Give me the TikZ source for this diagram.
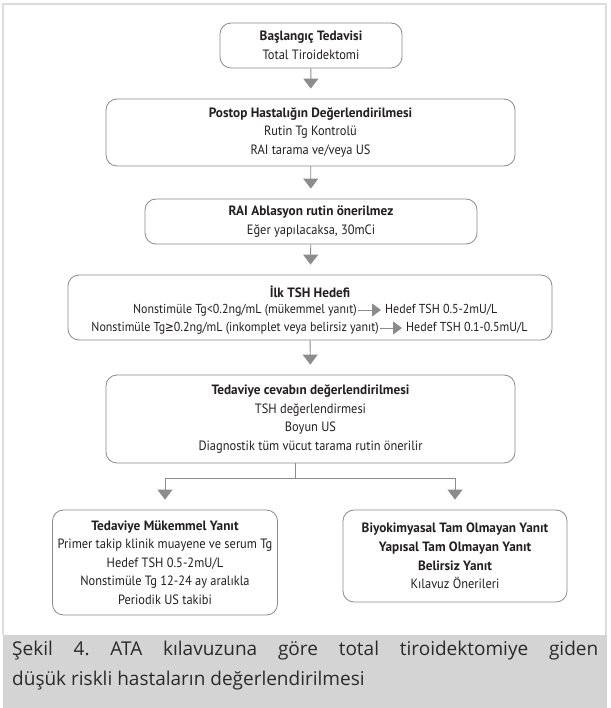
\documentclass[tikz,border=0pt]{standalone}
\usepackage{fontspec}
\setmainfont{PT Sans}[FakeStretch=0.92, BoldFeatures={FakeStretch=0.98}]
\newfontfamily\capfont{Open Sans}
\newfontfamily\symf{DejaVu Sans}[FakeStretch=0.8]
\usetikzlibrary{arrows.meta}

\definecolor{framegray}{HTML}{DCDCDC}
\definecolor{bandgray}{HTML}{D4D4D4}
\definecolor{boxline}{HTML}{8A8A8A}
\definecolor{arrowgray}{HTML}{8C8C8C}
\definecolor{ink}{HTML}{231F20}
\definecolor{capink}{HTML}{2A2A2A}

\tikzset{
  stepbox/.style={draw=boxline, line width=0.8pt, rounded corners=11pt,
    align=center, text=ink, inner sep=0pt,
    font=\fontsize{13.5}{18.6}\selectfont},
  rowtext/.style={text=ink, inner sep=1pt, font=\fontsize{13}{14}\selectfont},
  flow/.style={draw=arrowgray, line width=0.9pt, shorten >=10pt,
    -{Triangle[length=10pt,width=15pt]}, arrowgray},
  flowline/.style={draw=arrowgray, line width=0.9pt},
  inarrow/.style={draw=arrowgray, line width=0.9pt, shorten >=3pt,
    -{Triangle[length=9pt,width=13pt]}, arrowgray},
}

\begin{document}
\frenchspacing
\begin{tikzpicture}[x=1pt,y=-1pt]
\useasboundingbox (0,0) rectangle (610,708);
\fill[white] (0,0) rectangle (610,708);

% outer frame and caption band
\draw[framegray, line width=1.5pt] (3,635) -- (3,4) -- (606,4) -- (606,635);
\fill[bandgray] (3,635) rectangle (607,708);

% flow boxes
\node[stepbox, minimum width=182pt, minimum height=45pt] (b1) at (311,45.5)
  {\textbf{Başlangıç Tedavisi}\\Total Tiroidektomi};
\node[stepbox, minimum width=409pt, minimum height=67pt] (b2) at (310.5,132.5)
  {\textbf{Postop Hastalığın Değerlendirilmesi}\\Rutin Tg Kontrolü\\RAI tarama ve/veya US};
\node[stepbox, minimum width=332pt, minimum height=45pt] (b3) at (311,221.5)
  {\textbf{RAI Ablasyon rutin önerilmez}\\Eğer yapılacaksa, 30mCi};
\node[stepbox, minimum width=484pt, minimum height=65pt] (b4) at (310,307.5) {};
\node[stepbox, minimum width=409pt, minimum height=88pt] (b5) at (310.5,419)
  {\textbf{Tedaviye cevabın değerlendirilmesi}\\TSH değerlendirmesi\\Boyun US\\Diagnostik tüm vücut tarama rutin önerilir};
\node[stepbox, minimum width=225pt, minimum height=105pt] (b6) at (165,562.5)
  {\textbf{Tedaviye Mükemmel Yanıt}\\Primer takip klinik muayene ve serum Tg\\Hedef TSH 0.5-2mU/L\\Nonstimüle Tg 12-24 ay aralıkla\\Periodik US takibi};
\node[stepbox, minimum width=224pt, minimum height=92pt] (b7) at (455,556)
  {\textbf{Biyokimyasal Tam Olmayan Yanıt}\\\textbf{Yapısal Tam Olmayan Yanıt}\\\textbf{Belirsiz Yanıt}\\Kılavuz Önerileri};

% contents of the TSH target box
\node[rowtext, font=\fontsize{13.5}{14}\selectfont] (t4) at (310,292) {\textbf{İlk TSH Hedefi}};
\node[rowtext, anchor=east] (r1a) at (358,310) {Nonstimüle Tg<0.2ng/mL (mükemmel yanıt)};
\node[rowtext, anchor=west] (r1b) at (384,310) {Hedef TSH 0.5-2mU/L};
\node[rowtext, anchor=east] (r2a) at (380,328) {Nonstimüle Tg{\symf ≥}0.2ng/mL (inkomplet veya belirsiz yanıt)};
\node[rowtext, anchor=west] (r2b) at (405,328) {Hedef TSH 0.1-0.5mU/L};
\draw[inarrow] (r1a) -- (r1b);
\draw[inarrow] (r2a) -- (r2b);

% vertical flow
\draw[flow] (b1) -- (b2);
\draw[flow] (b2) -- (b3);
\draw[flow] (b3) -- (b4);
\draw[flow] (b4) -- (b5);

% branch to the two outcomes
\coordinate (s) at (295,463);
\coordinate (j) at (295,478);
\draw[flowline] (s) -- (j);
\draw[flow] (j) -| (b6);
\draw[flow] (j) -| (b7);

% caption: first line set full width, second line flush left
\node[anchor=north west, inner sep=0pt, align=left,
      text=capink, font=\capfont\fontsize{19}{29.5}\selectfont] (cap) at (12,641)
  {\makebox[586pt][s]{Şekil 4. ATA kılavuzuna göre total tiroidektomiye giden}\\
   düşük riskli hastaların değerlendirilmesi};
\end{tikzpicture}
\end{document}
